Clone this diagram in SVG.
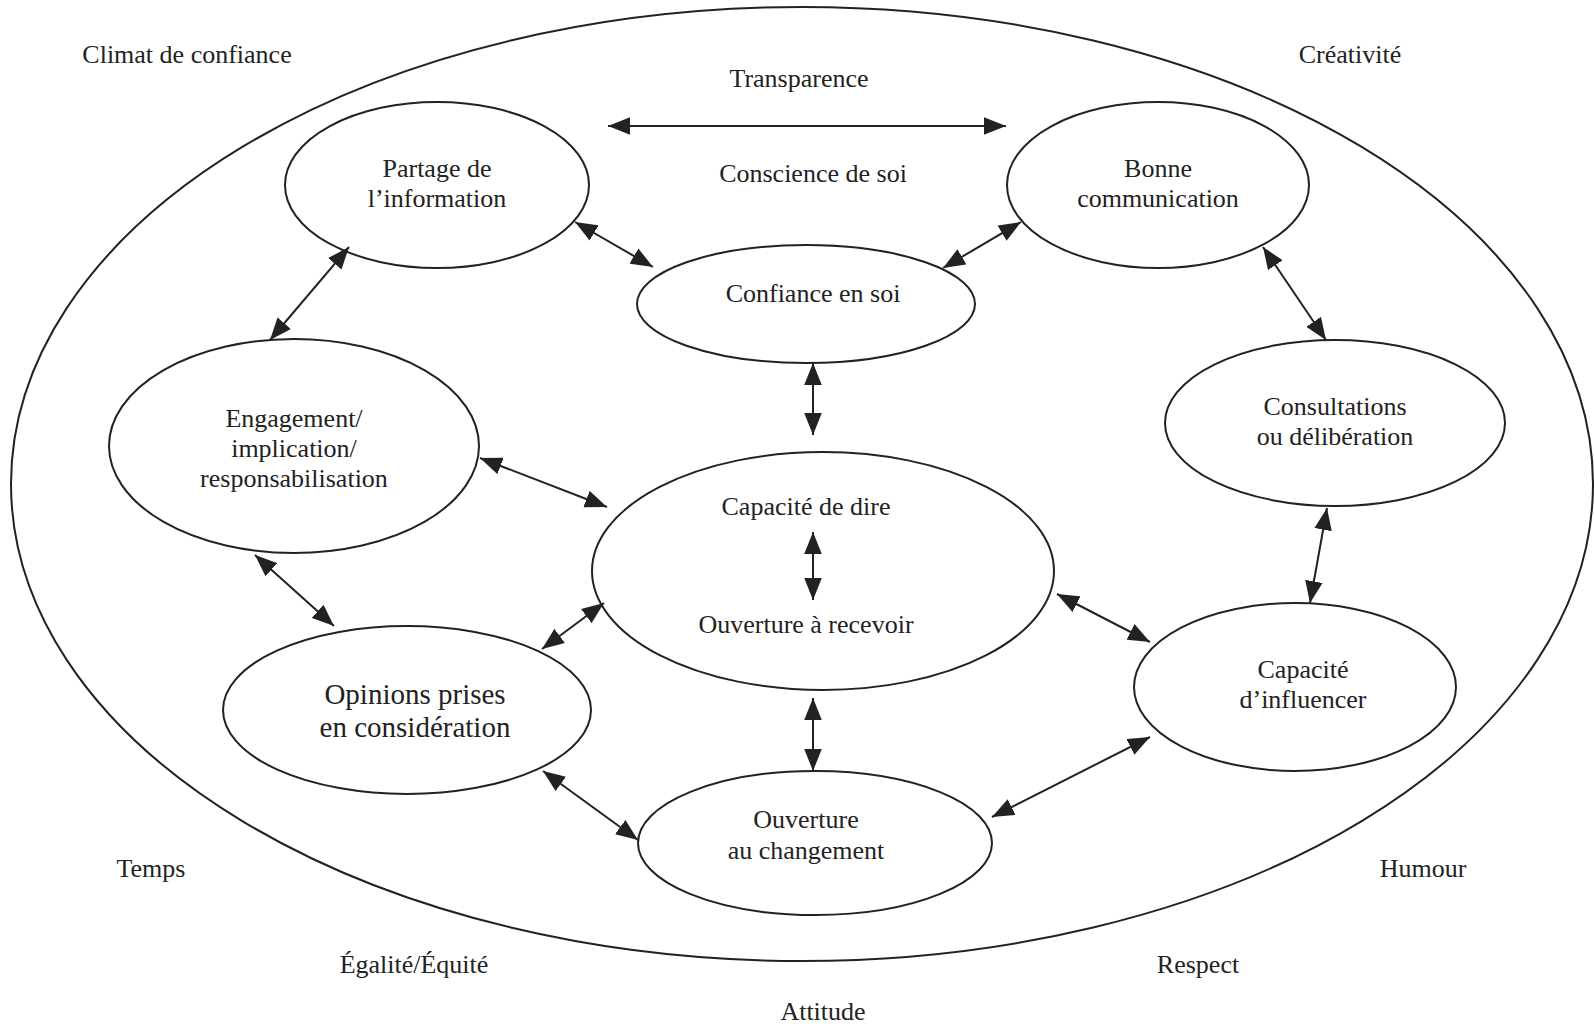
<svg xmlns="http://www.w3.org/2000/svg" width="1594" height="1026" viewBox="0 0 1594 1026">
<defs>
<style>
.n{fill:none;stroke:#222;stroke-width:2}
.t{font-family:"Liberation Serif","Times New Roman",serif;font-size:26px;fill:#222;text-anchor:middle}
.c line{stroke:#222;stroke-width:2;marker-start:url(#ah);marker-end:url(#ah)}
</style>
<marker id="ah" markerUnits="userSpaceOnUse" markerWidth="22" markerHeight="18" viewBox="0 0 20 16" refX="20" refY="8" orient="auto-start-reverse">
<path d="M0,0 L20,8 L0,16 z" fill="#222"/>
</marker>
</defs>
<rect width="1594" height="1026" fill="#fff"/>
<g id="outer">
<ellipse class="n" cx="802" cy="484" rx="791" ry="477"/>
</g>
<g id="labels">
<text class="t" x="187" y="63">Climat de confiance</text>
<text class="t" x="1350" y="63">Créativité</text>
<text class="t" x="799" y="87">Transparence</text>
<text class="t" x="813" y="182">Conscience de soi</text>
<text class="t" x="151" y="877">Temps</text>
<text class="t" x="1423" y="877">Humour</text>
<text class="t" x="414" y="973">Égalité/Équité</text>
<text class="t" x="1198" y="973">Respect</text>
<text class="t" x="823" y="1020">Attitude</text>
</g>
<g id="n-partage">
<ellipse class="n" cx="437" cy="185" rx="152" ry="83"/>
<text class="t" x="437" y="177">Partage de</text>
<text class="t" x="437" y="207">l’information</text>
</g>
<g id="n-bonne">
<ellipse class="n" cx="1158" cy="185" rx="151" ry="83"/>
<text class="t" x="1158" y="177">Bonne</text>
<text class="t" x="1158" y="207">communication</text>
</g>
<g id="n-confiance">
<ellipse class="n" cx="806" cy="304" rx="169" ry="59"/>
<text class="t" x="813" y="302">Confiance en soi</text>
</g>
<g id="n-engagement">
<ellipse class="n" cx="294" cy="446" rx="185" ry="107"/>
<text class="t" x="294" y="427">Engagement/</text>
<text class="t" x="294" y="457">implication/</text>
<text class="t" x="294" y="487">responsabilisation</text>
</g>
<g id="n-capacite-dire">
<ellipse class="n" cx="823" cy="571" rx="231" ry="119"/>
<text class="t" x="806" y="515">Capacité de dire</text>
<text class="t" x="806" y="633">Ouverture à recevoir</text>
</g>
<g id="n-consultations">
<ellipse class="n" cx="1335" cy="423" rx="170" ry="83"/>
<text class="t" x="1335" y="415">Consultations</text>
<text class="t" x="1335" y="445">ou délibération</text>
</g>
<g id="n-opinions">
<ellipse class="n" cx="407" cy="710" rx="184" ry="84"/>
<text class="t" x="415" y="704" style="font-size:29px">Opinions prises</text>
<text class="t" x="415" y="737" style="font-size:29px">en considération</text>
</g>
<g id="n-influencer">
<ellipse class="n" cx="1295" cy="687" rx="161" ry="84"/>
<text class="t" x="1303" y="678">Capacité</text>
<text class="t" x="1303" y="708">d’influencer</text>
</g>
<g id="n-changement">
<ellipse class="n" cx="815" cy="843" rx="177" ry="72"/>
<text class="t" x="806" y="828">Ouverture</text>
<text class="t" x="806" y="859">au changement</text>
</g>
<g id="connectors" class="c">
<line x1="608" y1="126" x2="1006" y2="126"/>
<line x1="575" y1="222" x2="653" y2="267"/>
<line x1="349" y1="247" x2="270" y2="340"/>
<line x1="480" y1="458" x2="607" y2="507"/>
<line x1="1021" y1="222" x2="943" y2="268"/>
<line x1="1263" y1="247" x2="1326" y2="340"/>
<line x1="813" y1="363" x2="813" y2="435"/>
<line x1="813" y1="532" x2="813" y2="600"/>
<line x1="255" y1="555" x2="334" y2="626"/>
<line x1="604" y1="603" x2="542" y2="649"/>
<line x1="543" y1="771" x2="638" y2="840"/>
<line x1="813" y1="698" x2="813" y2="771"/>
<line x1="1327" y1="508" x2="1310" y2="603"/>
<line x1="1057" y1="594" x2="1150" y2="642"/>
<line x1="992" y1="817" x2="1150" y2="737"/>
</g>
</svg>
